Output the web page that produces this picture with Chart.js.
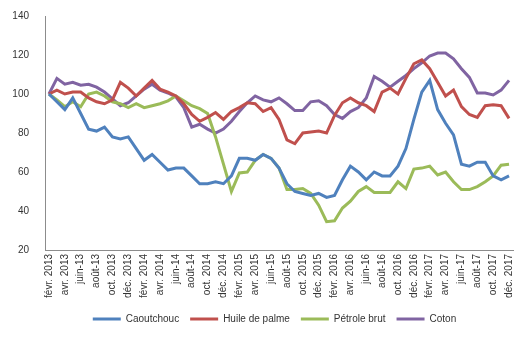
<!DOCTYPE html>
<html>
<head>
<meta charset="utf-8">
<script src="https://cdn.jsdelivr.net/npm/chart.js@4/dist/chart.umd.min.js"></script>
<style>
  html, body { margin: 0; padding: 0; background: #fff; }
  #wrap { width: 528px; height: 339px; }
</style>
</head>
<body>
<div id="wrap"><canvas id="myChart" width="528" height="339"></canvas></div>
<script>
// mois de févr. 2013 à déc. 2017
const mois = [
  'févr. 2013','mars-13','avr. 2013','mai-13','juin-13','juil-13','août-13','sept. 2013','oct. 2013','nov. 2013','déc. 2013',
  'janv. 2014','févr. 2014','mars-14','avr. 2014','mai-14','juin-14','juil-14','août-14','sept. 2014','oct. 2014','nov. 2014','déc. 2014',
  'janv. 2015','févr. 2015','mars-15','avr. 2015','mai-15','juin-15','juil-15','août-15','sept. 2015','oct. 2015','nov. 2015','déc. 2015',
  'janv. 2016','févr. 2016','mars-16','avr. 2016','mai-16','juin-16','juil-16','août-16','sept. 2016','oct. 2016','nov. 2016','déc. 2016',
  'janv. 2017','févr. 2017','mars-17','avr. 2017','mai-17','juin-17','juil-17','août-17','sept. 2017','oct. 2017','nov. 2017','déc. 2017'
]

const caoutchouc = [100,96,92,98,90,82,81,83,78,77,78,72,66,69,65,61,62,62,58,54,54,55,54,58,67,67,66,69,67,62,
  54,50,49,48,49,47,48,56,63,60,56,60,58,58,63,72,87,101,107,92,85,79,64,63,65,65,58,56,58]
const huileDePalme = [100,102,100,101,101,98,96,95,97,106,103,99,103,107,102.5,101,99,95,89.5,86,88,90.5,87,91,93,95.5,95,91,93,87,
  76.5,74.5,80,80.5,81,80,89,95.5,98,95.5,94,91,101,103,100,108,115.5,117.5,113,106,99,102,93.5,89.5,88,94,94.5,94,87.5]
const petroleBrut = [100,97,93.5,96,93.5,100,101,99,96,95,93,95,93,94,95,96.5,99,96.5,94,92.5,90,78,64,50,59.5,60,66,69,67,62,
  51,51,51.5,49,43,34.5,35,41.5,45,50,52.5,49.5,49.5,49.5,55,51.5,61.5,62,63,58.5,60,55,51,51,52.5,55,58,63.5,64]
const coton = [100,108,105,106,104.5,105,103.5,101,97.5,94,95.5,99,102.5,105,102,100.5,98.5,93,83,84.5,82,80,82,86,91,95.5,99,97,96,98,
  95,91.5,91.5,96,96.5,94,89.5,87.5,91,93,98,109,106.5,103.5,106.5,109.5,113,116,119.5,121,121,118,113,108.5,100.5,100.5,99.5,102,107]

const yTicks = [20, 40, 60, 80, 100, 120, 140]

const police = { family: '"Liberation Sans", Arial, sans-serif', size: 10 }
const gris = '#8c8c8c'

function serie(label, data, couleur) {
  return {
    label: label,
    data: data,
    borderColor: couleur,
    backgroundColor: couleur,
    borderWidth: 3,
    pointRadius: 0,
    pointHoverRadius: 0,
    tension: 0
  }
}

// la légende est un peu décalée vers la droite dans l'original
const decaleLegende = {
  id: 'decaleLegende',
  afterLayout(chart) {
    chart.legend.left += 18
    chart.legend.right += 18
  }
}

const ctx = document.getElementById('myChart')
const myChart = new Chart(ctx, {
  type: 'line',
  data: {
    labels: mois,
    datasets: [
      serie('Caoutchouc', caoutchouc, '#4f81bd'),
      serie('Huile de palme', huileDePalme, '#c0504d'),
      serie('Pétrole brut', petroleBrut, '#9bbb59'),
      serie('Coton', coton, '#8064a2')
    ]
  },
  plugins: [decaleLegende],
  options: {
    responsive: false,
    animation: false,
    layout: { padding: { left: 0, right: 15, top: 16, bottom: 5 } },
    plugins: {
      legend: {
        position: 'bottom',
        labels: {
          usePointStyle: true,
          pointStyle: 'line',
          pointStyleWidth: 28,
          padding: 11,
          color: '#333',
          font: police
        }
      },
      tooltip: { enabled: false }
    },
    scales: {
      x: {
        offset: true,
        grid: { display: false, drawTicks: false },
        border: { display: true, color: gris, width: 1 },
        ticks: {
          autoSkip: false,
          maxRotation: 90,
          minRotation: 90,
          padding: 4,
          color: '#333',
          font: police,
          callback: function(v, i) { return i % 2 === 0 ? mois[i] : '' }
        },
        afterFit: function(scale) { scale.height = 53 }
      },
      y: {
        min: 20,
        max: 140,
        afterBuildTicks: function(scale) { scale.ticks = yTicks.map(v => ({ value: v })) },
        grid: { display: false, drawTicks: false },
        border: { display: true, color: gris, width: 1 },
        ticks: { padding: 16, color: '#333', font: police },
        afterFit: function(scale) {
          scale.width = 45
          scale.paddingTop = 0
          scale.paddingBottom = 0
        }
      }
    }
  }
})
</script>
</body>
</html>
